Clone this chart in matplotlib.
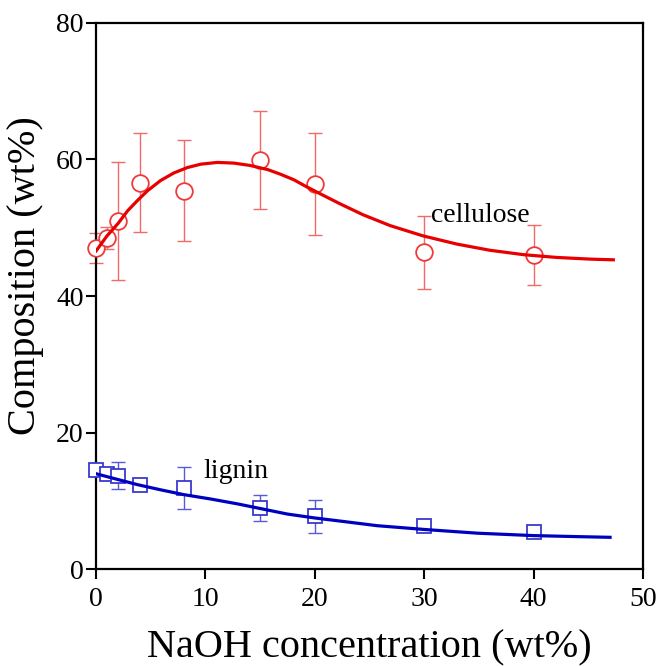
import matplotlib
matplotlib.use("Agg")
import matplotlib.pyplot as plt

plt.rcParams["font.family"] = ["Liberation Serif", "DejaVu Serif"]

# measured points
naoh = [0, 1, 2, 4, 8, 15, 20, 30, 40]
cellulose = [47.0, 48.5, 51.0, 56.6, 55.4, 59.9, 56.4, 46.4, 46.0]
cellulose_err = [2.2, 1.6, 8.6, 7.2, 7.4, 7.2, 7.4, 5.3, 4.4]
lignin = [14.6, 14.0, 13.7, 12.3, 11.9, 9.0, 7.8, 6.3, 5.45]
lignin_err = [0.4, 0.4, 2.0, 0.7, 3.1, 1.9, 2.4, 0.6, 0.6]

# fitted curves
cel_fit_x = [0, 1.0, 2.0, 2.9, 3.8, 4.7, 5.9, 7.1, 8.35, 9.6, 11.1, 12.6, 14.1,
             15.7, 16.9, 18.1, 19.0, 20.2, 22.3, 24.4, 26.9, 29.9, 33.0, 36.0,
             39.1, 42.1, 45.2, 47.3]
cel_fit_y = [46.6, 48.8, 50.6, 52.5, 54.0, 55.4, 56.9, 58.0, 58.8, 59.3, 59.55,
             59.45, 59.1, 58.5, 57.8, 57.0, 56.2, 55.2, 53.5, 51.9, 50.3, 48.8,
             47.6, 46.7, 46.05, 45.65, 45.4, 45.3]
lig_fit_x = [0, 1.65, 3.8, 5.9, 8.0, 10.5, 12.9, 15.05, 17.5, 19.9, 22.7, 25.7,
             30.0, 34.9, 40.0, 44.0, 47.0]
lig_fit_y = [14.0, 13.3, 12.4, 11.65, 10.95, 10.3, 9.6, 8.9, 8.1, 7.55, 7.0, 6.4,
             5.85, 5.3, 4.95, 4.8, 4.7]

fig = plt.figure(figsize=(6.58, 6.66), dpi=100)
ax = fig.add_axes([0.146, 0.145, 0.831, 0.821])

# error bars under the markers
for y, e, c in [(cellulose, cellulose_err, "#f06a6a"), (lignin, lignin_err, "#5a5ad8")]:
    eb = ax.errorbar(naoh, y, yerr=e, fmt="none", ecolor=c, elinewidth=1.0,
                     capsize=5, capthick=1.0, zorder=2)
    for art in eb.lines[1] + eb.lines[2]:
        art.set_clip_on(False)

ax.plot(naoh, cellulose, "o", ms=12, mfc="white", mec="#f03a3a", mew=1.3,
        zorder=3, clip_on=False)
ax.plot(naoh, lignin, "s", ms=10, mfc="white", mec="#3a3ad0", mew=1.3,
        zorder=3, clip_on=False)

ax.plot(cel_fit_x, cel_fit_y, color="#e80000", lw=2.3, zorder=4)
ax.plot(lig_fit_x, lig_fit_y, color="#0000c0", lw=2.3, zorder=4)

ax.text(30.6, 50.8, "cellulose", fontsize=20, va="baseline")
ax.text(9.8, 13.4, "lignin", fontsize=20, va="baseline")

ax.set_xlim(0, 50)
ax.set_ylim(0, 80)
ax.set_xticks([0, 10, 20, 30, 40, 50])
ax.set_yticks([0, 20, 40, 60, 80])
ax.tick_params(labelsize=20, width=1.5, length=7, direction="out")
ax.tick_params(axis="y", pad=2)
ax.tick_params(axis="x", pad=6)
for s in ax.spines.values():
    s.set_linewidth(1.6)

ax.set_xlabel("NaOH concentration (wt%)", fontsize=29, labelpad=12)
ax.set_ylabel("Composition (wt%)", fontsize=29)
ax.yaxis.set_label_coords(-0.095, 0.538)

fig.savefig("out.png", dpi=100)
